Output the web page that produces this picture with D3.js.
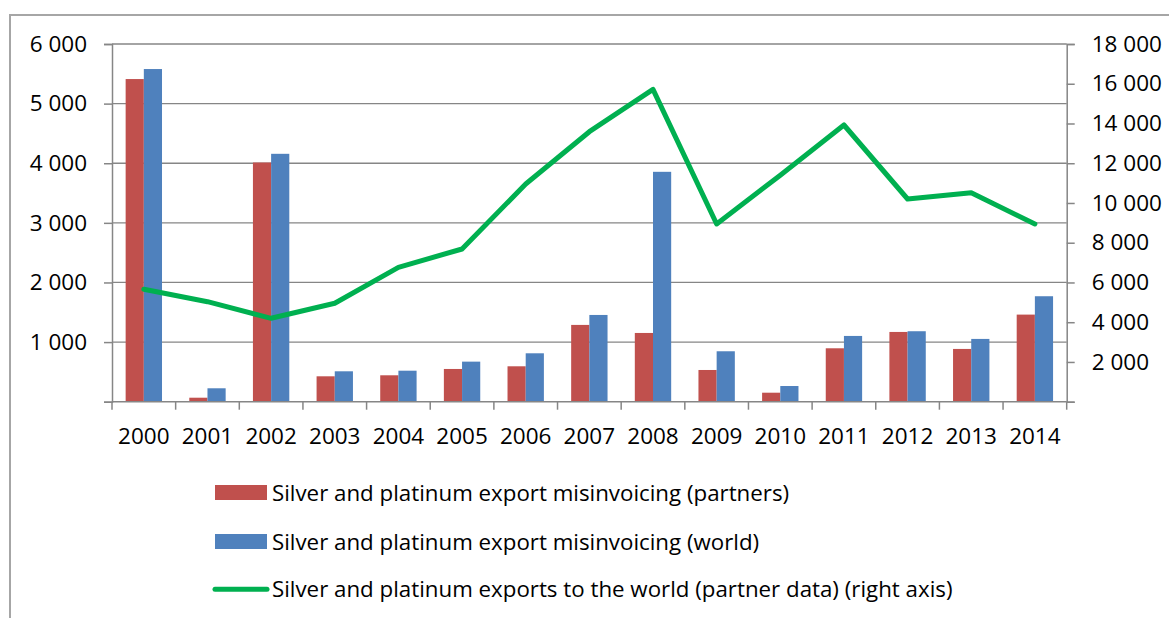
<!DOCTYPE html>
<html>
<head>
<meta charset="utf-8">
<script src="https://cdn.jsdelivr.net/npm/d3@7"></script>
<style>
  html, body { margin: 0; padding: 0; background: #fff; }
  svg { display: block; font-family: "Open Sans", "Noto Sans", sans-serif; }
</style>
</head>
<body>
<svg id="chart" width="1169" height="618"></svg>
<script>
const years = ["2000","2001","2002","2003","2004","2005","2006","2007","2008","2009","2010","2011","2012","2013","2014"];
const partners = [5412, 67, 4012, 426, 443, 549, 594, 1288, 1153, 532, 151, 896, 1170, 885, 1461];
const world    = [5580, 225, 4158, 510, 520, 672, 812, 1455, 3856, 846, 263, 1103, 1182, 1053, 1769];
const exportsWorld = [5656, 5032, 4197, 4952, 6763, 7684, 10955, 13587, 15720, 8942, 11400, 13924, 10200, 10518, 8942];
const leftTicks = [0, 1000, 2000, 3000, 4000, 5000, 6000];
const rightTicks = [0, 2000, 4000, 6000, 8000, 10000, 12000, 14000, 16000, 18000];
const seriesNames = [
  "Silver and platinum export misinvoicing (partners)",
  "Silver and platinum export misinvoicing (world)",
  "Silver and platinum exports to the world (partner data) (right axis)"
];
const colors = ["#C0504D", "#4F81BD", "#00B050"];

const svg = d3.select("#chart");
const L = 112, R = 1066.7, T = 44, B = 401.7;
const gridColor = "#868686";
const fmt = v => v === 0 ? "" : d3.format(",")(v).replace(/,/g, " ");

// outer border
svg.append("path").attr("d", `M10,620 L10,15 L1172,15`)
  .attr("fill", "none").attr("stroke", "#a6a6a6").attr("stroke-width", 2);

const x = d3.scaleBand().domain(years).range([L, R]).paddingInner(0).paddingOuter(0);
const yL = d3.scaleLinear().domain([0, 6000]).range([B, T]);
const yR = d3.scaleLinear().domain([0, 18000]).range([B, T]);

// gridlines
svg.append("g").selectAll("line").data(leftTicks.filter(d => d > 0)).join("line")
  .attr("x1", L).attr("x2", R).attr("y1", d => yL(d)).attr("y2", d => yL(d))
  .attr("stroke", gridColor).attr("stroke-width", 1.3);

// bars
const bw = x.bandwidth();
const barW = bw * 0.2857;
const inner = d3.scaleBand().domain([0, 1]).range([bw / 2 - barW, bw / 2 + barW]);
[partners, world].forEach((vals, si) => {
  svg.append("g").selectAll("rect").data(vals).join("rect")
    .attr("x", (d, i) => x(years[i]) + inner(si))
    .attr("width", inner.bandwidth())
    .attr("y", d => yL(d))
    .attr("height", d => B - yL(d))
    .attr("fill", colors[si]);
});

// left axis
const axL = svg.append("g").attr("transform", `translate(${L},0)`)
  .call(d3.axisLeft(yL).tickValues(leftTicks).tickSize(8).tickPadding(17).tickFormat(fmt));
// right axis
const axR = svg.append("g").attr("transform", `translate(${R},0)`)
  .call(d3.axisRight(yR).tickValues(rightTicks).tickSize(8).tickPadding(17).tickFormat(fmt));
// bottom axis
const axB = svg.append("g").attr("transform", `translate(0,${B})`)
  .call(d3.axisBottom(x).tickSize(0).tickPadding(26));
// category boundary ticks
svg.append("g").selectAll("line").data(d3.range(years.length + 1)).join("line")
  .attr("x1", i => L + i * bw).attr("x2", i => L + i * bw)
  .attr("y1", B).attr("y2", B + 8)
  .attr("stroke", gridColor).attr("stroke-width", 1.5);

[axL, axR, axB].forEach(g => {
  g.selectAll(".domain").attr("stroke", gridColor).attr("stroke-width", 1.5);
  g.selectAll(".tick line").attr("stroke", gridColor).attr("stroke-width", 1.5);
  g.selectAll("text").attr("fill", "#000").attr("font-size", 22.5)
    .attr("font-family", '"Open Sans", sans-serif');
});
axB.select(".domain").attr("d", `M${L},0H${R}`);

// line
const line = d3.line().x((d, i) => x(years[i]) + bw / 2).y(d => yR(d));
svg.append("path").datum(exportsWorld).attr("d", line)
  .attr("fill", "none").attr("stroke", colors[2]).attr("stroke-width", 5)
  .attr("stroke-linejoin", "round").attr("stroke-linecap", "round");

// legend
const leg = svg.append("g");
const rows = [492.5, 541.5, 589.3];
seriesNames.forEach((name, i) => {
  if (i < 2) {
    leg.append("rect").attr("x", 215).attr("y", rows[i] - 7.5).attr("width", 52).attr("height", 15)
      .attr("fill", colors[i]);
  } else {
    leg.append("line").attr("x1", 215).attr("x2", 267).attr("y1", rows[i]).attr("y2", rows[i])
      .attr("stroke", colors[2]).attr("stroke-width", 5).attr("stroke-linecap", "round");
  }
  leg.append("text").attr("x", 272).attr("y", rows[i]).attr("dy", "0.36em")
    .attr("font-size", 22.3).attr("fill", "#000").text(name);
});
</script>
</body>
</html>
